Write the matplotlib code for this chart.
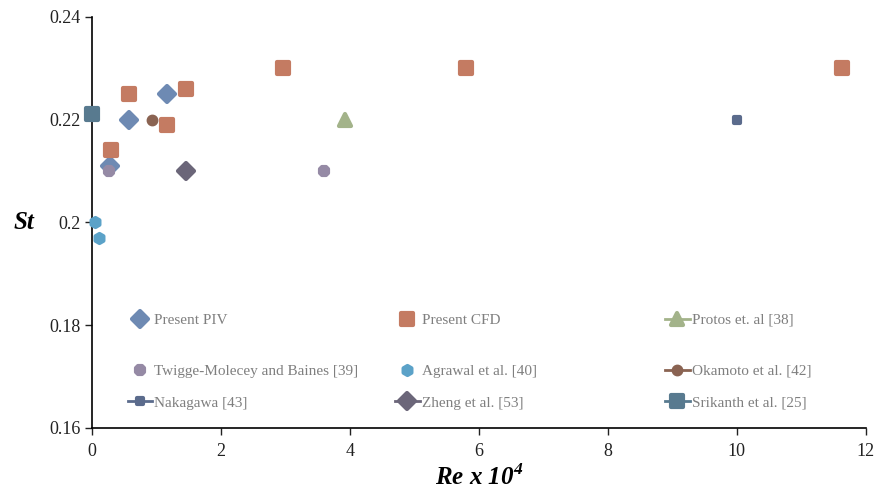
import numpy as np
import matplotlib.pyplot as plt
from matplotlib.markers import MarkerStyle
from matplotlib.lines import Line2D

plt.rcParams['font.family'] = ['Liberation Serif', 'DejaVu Serif']
plt.rcParams['mathtext.fontset'] = 'custom'
plt.rcParams['mathtext.bf'] = 'Liberation Serif:bold:italic'
plt.rcParams['mathtext.rm'] = 'Liberation Serif:bold:italic'

# data (Re x 10^4, St)
piv_re = [0.28, 0.57, 1.16]
piv_st = [0.211, 0.220, 0.225]
cfd_re = [0.29, 0.57, 1.16, 1.46, 2.96, 5.80, 11.63]
cfd_st = [0.214, 0.225, 0.219, 0.226, 0.230, 0.230, 0.230]
protos_re = [3.92]
protos_st = [0.220]
twigge_re = [0.26, 3.60]
twigge_st = [0.210, 0.210]
agrawal_re = [0.05, 0.10]
agrawal_st = [0.200, 0.197]
okamoto_re = [0.93]
okamoto_st = [0.220]
nakagawa_re = [10.0]
nakagawa_st = [0.220]
zheng_re = [1.46]
zheng_st = [0.210]
srikanth_re = [0.0]
srikanth_st = [0.221]

series = [
    # label, x, y, marker, size, color, line
    ('Present PIV', piv_re, piv_st, 'D', 8, '#6e8ab3', False),
    ('Present CFD', cfd_re, cfd_st, 's', 8, '#c47b62', False),
    ('Protos et. al [38]', protos_re, protos_st, '^', 9, '#a3b38a', True),
    ('Twigge-Molecey and Baines [39]', twigge_re, twigge_st, '8', 6.5, '#958aa5', False),
    ('Agrawal et al. [40]', agrawal_re, agrawal_st, 'h', 6.5, '#5ba2c8', False),
    ('Okamoto et al. [42]', okamoto_re, okamoto_st, 'o', 5.5, '#8a6352', True),
    ('Nakagawa [43]', nakagawa_re, nakagawa_st, 's', 4, '#5b6b8c', True),
    ('Zheng et al. [53]', zheng_re, zheng_st, 'D', 8, '#6b6679', True),
    ('Srikanth et al. [25]', srikanth_re, srikanth_st, 's', 9, '#587a8f', True),
]

fig = plt.figure(figsize=(8.77, 4.94), dpi=100)
ax = fig.add_axes([0.105, 0.134, 0.882, 0.832])

handles = []
for label, x, y, m, ms, c, line in series:
    mk = MarkerStyle(m, joinstyle='round')
    ax.plot(x, y, linestyle='none', marker=mk, markersize=ms, color=c,
            markeredgecolor=c, markeredgewidth=3, clip_on=False, zorder=3)
    h = Line2D([], [], linestyle='-' if line else 'none', linewidth=2, color=c,
               marker=mk, markersize=ms, markeredgecolor=c, markeredgewidth=3)
    handles.append((h, label))

ax.set_xlim(0, 12)
ax.set_ylim(0.16, 0.24)
ax.set_xticks([0, 2, 4, 6, 8, 10, 12])
ax.set_yticks([0.16, 0.18, 0.2, 0.22, 0.24])
ax.set_yticklabels(['0.16', '0.18', '0.2', '0.22', '0.24'])
ax.spines['top'].set_visible(False)
ax.spines['right'].set_visible(False)
ax.spines['left'].set_linewidth(1.2)
ax.spines['bottom'].set_linewidth(1.2)
ax.tick_params(axis='both', direction='out', length=5, width=1.0, labelsize=13, colors='#222222')
ax.tick_params(axis='x', pad=6)

ax.set_xlabel(r'Re x 10$^{\mathbf{4}}$', fontsize=18, fontweight='bold', fontstyle='italic', labelpad=3)
ax.set_ylabel('St', fontsize=18, fontweight='bold', fontstyle='italic', rotation=0, labelpad=18, va='center')

# legend: 3 x 3 grid, one small legend per entry
col_x = [0.036, 0.382, 0.731]
row_y = [0.262, 0.138, 0.061]
legs = []
for i, (h, label) in enumerate(handles):
    r, cidx = divmod(i, 3)
    leg = ax.legend([h], [label], loc='center left', bbox_to_anchor=(col_x[cidx], row_y[r]),
                    frameon=False, fontsize=11, handlelength=1.6, handletextpad=0.15,
                    borderpad=0, labelcolor='#7f7f7f')
    legs.append(leg)
for leg in legs[:-1]:
    ax.add_artist(leg)

fig.savefig('out.png', dpi=100)
